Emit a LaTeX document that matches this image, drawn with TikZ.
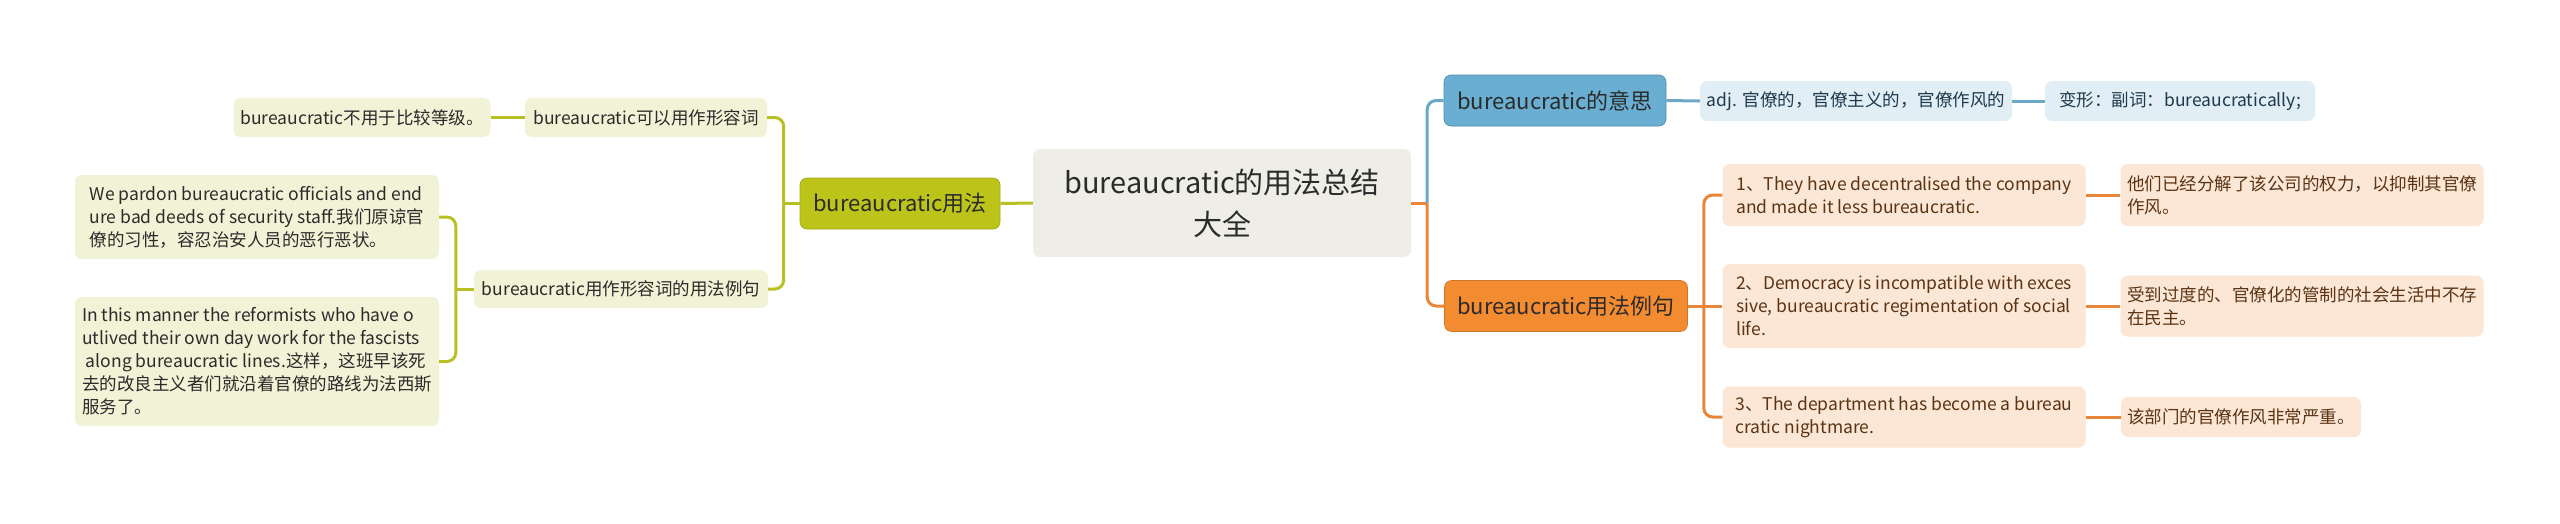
\documentclass[tikz,border=0pt]{standalone}
\usepackage{fontspec}
\setmainfont{Noto Sans CJK SC}
\usetikzlibrary{calc}
\definecolor{cfill}{HTML}{EFEEE6}
\definecolor{gmain}{HTML}{BCC41A}
\definecolor{gline}{HTML}{B8C024}
\definecolor{gsub}{HTML}{F1F2D6}
\definecolor{bmain}{HTML}{6AAED2}
\definecolor{bline}{HTML}{6AA8C8}
\definecolor{bsub}{HTML}{E2EEF6}
\definecolor{omain}{HTML}{F38B30}
\definecolor{oline}{HTML}{E8873A}
\definecolor{osub}{HTML}{FCE6D6}
\definecolor{txt}{HTML}{2B2B2B}
\definecolor{btxt}{HTML}{1F3A4C}
\definecolor{otxt}{HTML}{5A3413}
\tikzset{
  box/.style={rounded corners=7pt, inner sep=0pt, align=left, anchor=center},
  small/.style={box, font=\fontsize{17.5}{23}\selectfont},
  central/.style={box, fill=cfill, text=txt, align=center, font=\fontsize{29}{42}\selectfont},
  mainbox/.style={box, font=\fontsize{22}{27}\selectfont, text=txt},
  gsubbox/.style={small, fill=gsub, text=txt},
  bsubbox/.style={small, fill=bsub, text=btxt},
  osubbox/.style={small, fill=osub, text=otxt},
  gconn/.style={draw=gline, line width=3pt},
  bconn/.style={draw=bline, line width=3pt},
  oconn/.style={draw=oline, line width=3pt},
}
\begin{document}
\begin{tikzpicture}[x=1pt,y=-1pt]
\useasboundingbox[fill=white] (0,0) rectangle (2560,523);
% nodes
\node[central, minimum width=378pt, minimum height=108pt] (C) at (1222,203) {bureaucratic的用法总结\\大全};
\node[mainbox, fill=gmain, draw=gmain!85!black, line width=0.6pt, minimum width=200pt, minimum height=51pt] (G) at (900,203.5) {bureaucratic用法};
\node[gsubbox, minimum width=242pt, minimum height=39pt] (L2) at (646,117.5) {bureaucratic可以用作形容词};
\node[gsubbox, minimum width=257pt, minimum height=39pt] (L1) at (362,117.5) {bureaucratic不用于比较等级。};
\node[gsubbox, minimum width=294pt, minimum height=38pt] (L3) at (621,289) {bureaucratic用作形容词的用法例句};
\node[gsubbox, minimum width=364pt, minimum height=84pt] (L4) at (257,217) {We pardon bureaucratic officials and end\\ure bad deeds of security staff.我们原谅官\\僚的习性，容忍治安人员的恶行恶状。};
\node[gsubbox, minimum width=364pt, minimum height=129pt] (L5) at (257,361.5) {In this manner the reformists who have o\\utlived their own day work for the fascists\\\ along bureaucratic lines.这样，这班早该死\\去的改良主义者们就沿着官僚的路线为法西斯\\服务了。};
\node[mainbox, fill=bmain, draw=bmain!80!black, line width=0.6pt, minimum width=222pt, minimum height=51pt] (B) at (1555,100.5) {bureaucratic的意思};
\node[bsubbox, minimum width=312pt, minimum height=40pt] (B1) at (1856,101) {adj. 官僚的，官僚主义的，官僚作风的};
\node[bsubbox, minimum width=270pt, minimum height=40pt] (B2) at (2180,101) {变形：副词：bureaucratically;};
\node[mainbox, fill=omain, draw=omain!85!black, line width=0.6pt, minimum width=243pt, minimum height=51pt] (O) at (1566,306) {bureaucratic用法例句};
\node[osubbox, minimum width=363pt, minimum height=62pt] (O1) at (1904,195) {1、They have decentralised the company\\and made it less bureaucratic.};
\node[osubbox, minimum width=363pt, minimum height=62pt] (O1c) at (2302,195) {他们已经分解了该公司的权力，以抑制其官僚\\作风。};
\node[osubbox, minimum width=363pt, minimum height=84pt] (O2) at (1904,306) {2、Democracy is incompatible with exces\\sive, bureaucratic regimentation of social\\life.};
\node[osubbox, minimum width=363pt, minimum height=61pt] (O2c) at (2302,306) {受到过度的、官僚化的管制的社会生活中不存\\在民主。};
\node[osubbox, minimum width=363pt, minimum height=61pt] (O3) at (1904,417) {3、The department has become a bureau\\cratic nightmare.};
\node[osubbox, minimum width=240pt, minimum height=40pt] (O3c) at (2241,417) {该部门的官僚作风非常严重。};
% junction coordinates
\coordinate (gj) at ($(G.west)+(-16,0)$);
\coordinate (lj) at ($(L3.west)+(-18,0)$);
\coordinate (rj) at ($(C.east)+(16,0)$);
\coordinate (oj) at ($(O.east)+(16,0)$);
% left connectors
\draw[gconn] (C.west) -- (G.east);
\draw[gconn] (G.west) -- (gj);
\draw[gconn, rounded corners=9pt] (gj) |- (L2.east);
\draw[gconn, rounded corners=9pt] (gj) |- (L3.east);
\draw[gconn] (L2.west) -- (L1.east);
\draw[gconn] (L3.west) -- (lj);
\draw[gconn, rounded corners=9pt] (lj) |- (L4.east);
\draw[gconn, rounded corners=9pt] (lj) |- (L5.east);
% right connectors
\draw[oconn] (C.east) -- (rj);
\draw[bconn, rounded corners=9pt] (rj) |- (B.west);
\draw[oconn, rounded corners=9pt] (rj) |- (O.west);
\draw[bconn] (B.east) -- (B1.west);
\draw[bconn] (B1.east) -- (B2.west);
\draw[oconn] (O.east) -- (oj);
\draw[oconn, rounded corners=9pt] (oj) |- (O1.west);
\draw[oconn] (oj) -- (O2.west);
\draw[oconn, rounded corners=9pt] (oj) |- (O3.west);
\draw[oconn] (O1.east) -- (O1c.west);
\draw[oconn] (O2.east) -- (O2c.west);
\draw[oconn] (O3.east) -- (O3c.west);
\end{tikzpicture}
\end{document}
